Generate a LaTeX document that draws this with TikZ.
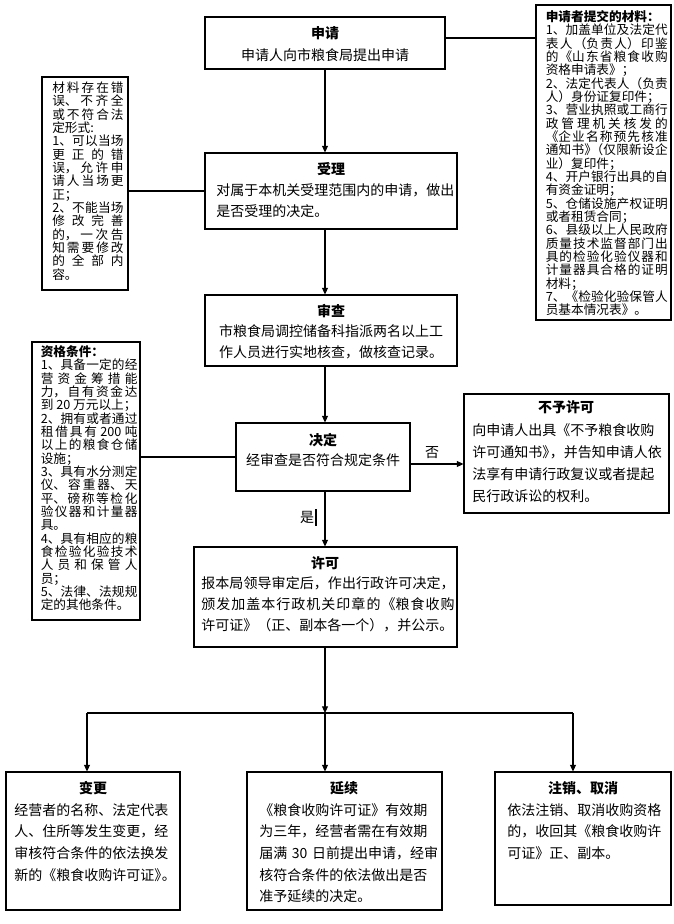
\documentclass[tikz,border=0pt]{standalone}
\usepackage{fontspec}
\setmainfont{Noto Sans CJK SC}
\usetikzlibrary{arrows.meta,fit}
\hbadness=10000
\hfuzz=30pt
\setlength\parindent{0pt}
\tikzset{
  frame/.style={draw, line width=0.8pt, inner sep=0pt},
  ttl/.style={inner sep=0pt, anchor=base, font=\fontsize{10.5}{15.75}\selectfont\bfseries},
  cbody/.style={inner sep=0pt, anchor=base, align=center, text width=#1, font=\fontsize{10.5}{15.75}\selectfont},
  lbody/.style={inner sep=0pt, anchor=base west, align=left, text width=#1, font=\fontsize{10.5}{15.75}\selectfont},
  jbody/.style={inner sep=0pt, anchor=base west, align=justify, text width=#1, font=\fontsize{10.5}{15.75}\selectfont,
    execute at begin node={\XeTeXlinebreaklocale "zh"\XeTeXlinebreakskip=0pt plus 4pt\relax}},
  side/.style={inner sep=0pt, anchor=base west, align=justify, text width=#1, font=\fontsize{9.5}{10}\selectfont,
    execute at begin node={\XeTeXlinebreaklocale "zh"\XeTeXlinebreakskip=0pt plus 4pt\lineskiplimit=-20pt\relax}},
  arr/.style={-{Triangle[length=5pt,width=4.5pt]}, line width=0.8pt},
  conn/.style={line width=0.8pt},
  lbl/.style={inner sep=0pt, font=\fontsize{10.5}{12}\selectfont},
}
\begin{document}
\begin{tikzpicture}[x=0.75pt,y=-0.75pt]
\useasboundingbox (0,0) rectangle (674,924);
% boxes
\node[frame, fit={(205,17)(445,69)}] (sq) {};
\node[frame, fit={(205,153)(457,229)}] (sl) {};
\node[frame, fit={(205,295)(457,366)}] (sc) {};
\node[frame, fit={(236,423)(410,491)}] (jd) {};
\node[frame, fit={(464,394)(669,513)}] (by) {};
\node[frame, fit={(194,547)(457,647)}] (xk) {};
\node[frame, fit={(6,772)(180,910)}] (bg) {};
\node[frame, fit={(247,772)(442,910)}] (yx) {};
\node[frame, fit={(495,772)(671,905)}] (zx) {};
\node[frame, fit={(536,5)(671,320)}] (mat) {};
\node[frame, fit={(42,77)(128,290)}] (err) {};
\node[frame, fit={(32,342)(140,620)}] (qual) {};
% texts
\node[ttl] (sqT) at (325,39) {申请};
\node[cbody=220pt] (sqB) at (325,60.3) {申请人向市粮食局提出申请};
\node[ttl] (slT) at (331,174) {受理};
\node[lbody=182pt] (slB) at (216,195.3) {对属于本机关受理范围内的申请，做出\\是否受理的决定。};
\node[ttl] (scT) at (331,316) {审查};
\node[cbody=240pt] (scB) at (331,336.3) {市粮食局调控储备科指派两名以上工\\作人员进行实地核查，做核查记录。};
\node[ttl] (jdT) at (323,445) {决定};
\node[cbody=160pt] (jdB) at (323,465.3) {经审查是否符合规定条件};
\node[ttl] (byT) at (566,412) {不予许可};
\node[lbody=150pt, font=\fontsize{10.5}{16.5}\selectfont] (byB) at (472,435.3) {向申请人出具《不予粮食收购\\许可通知书》\kern-.45em，并告知申请人依\\法享有申请行政复议或者提起\\民行政诉讼的权利。};
\node[ttl] (xkT) at (325,568) {许可};
\node[jbody=190pt] (xkB) at (201,588.3) {报本局领导审定后，作出行政许可决定，\linebreak 颁发加盖本行政机关印章的《粮食收购\linebreak 许可证》（正、副本各一个），并公示。};
\node[ttl] (bgT) at (93,793) {变更};
\node[lbody=125pt, font=\fontsize{10.5}{16.2}\selectfont] (bgB) at (14,815.3) {经营者的名称、法定代表\\人、住所等发生变更，经\\审核符合条件的依法换发\\新的《粮食收购许可证》\kern-.45em。};
\node[ttl] (yxT) at (344,793) {延续};
\node[lbody=140pt, font=\fontsize{10.5}{16.2}\selectfont] (yxB) at (259,815.3) {《粮食收购许可证》有效期\\为三年，经营者需在有效期\\届满 30 日前提出申请，经审\\核符合条件的依法做出是否\\准予延续的决定。};
\node[ttl] (zxT) at (583,793) {注销、取消};
\node[lbody=130pt, font=\fontsize{10.5}{16.2}\selectfont] (zxB) at (507,815.3) {依法注销、取消收购资格\\的，收回其《粮食收购许\\可证》正、副本。};
% side boxes
\node[side=91.5pt] (matB) at (545.5,21.5) {{\bfseries 申请者提交的材料：}\par
1、加盖单位及法定代\linebreak 表人（负责人）印鉴\linebreak 的《山东省粮食收购\linebreak 资格申请表》；\par
2、法定代表人（负责\linebreak 人）身份证复印件；\par
3、营业执照或工商行\linebreak 政管理机关核发的\linebreak 《企业名称预先核准\linebreak 通知书》\kern-.5em（仅限新设企\linebreak 业）复印件；\par
4、开户银行出具的自\linebreak 有资金证明；\par
5、仓储设施产权证明\linebreak 或者租赁合同；\par
6、县级以上人民政府\linebreak 质量技术监督部门出\linebreak 具的检验化验仪器和\linebreak 计量器具合格的证明\linebreak 材料；\par
7、《检验化验保管人\linebreak 员基本情况表》。};
\node[side=53.5pt] (errB) at (52,92.5) {材料存在错\linebreak 误、不齐全\linebreak 或不符合法\linebreak 定形式:\par
1、可以当场\linebreak 更正的错\linebreak 误，允许申\linebreak 请人当场更\linebreak 正；\par
2、不能当场\linebreak 修改完善\linebreak 的，一次告\linebreak 知需要修改\linebreak 的全部内\linebreak 容。};
\node[side=72.5pt] (qualB) at (40.5,356.5) {{\bfseries 资格条件：}\par
1、具备一定的经\linebreak 营资金筹措能\linebreak 力，自有资金达\linebreak 到 20 万元以上；\par
2、拥有或者通过\linebreak 租借具有 200 吨\linebreak 以上的粮食仓储\linebreak 设施；\par
3、具有水分测定\linebreak 仪、容重器、天\linebreak 平、磅称等检化\linebreak 验仪器和计量器\linebreak 具。\par
4、具有相应的粮\linebreak 食检验化验技术\linebreak 人员和保管人\linebreak 员；\par
5、法律、法规规\linebreak 定的其他条件。};
% connectors
\coordinate (axis) at (325,0);
\coordinate (my) at (0,38);
\coordinate (ny) at (0,464);
\coordinate (br) at (325,713);
\coordinate (bl) at (87,713);
\coordinate (brr) at (573,713);
\draw[arr] (sq.south -| axis) -- (sl.north -| axis);
\draw[arr] (sl.south -| axis) -- (sc.north -| axis);
\draw[arr] (sc.south -| axis) -- (jd.north -| axis);
\draw[arr] (jd.south -| axis) -- (xk.north -| axis);
\draw[arr] (xk.south -| axis) -- (br);
\draw[conn] (bl) -- (brr);
\draw[arr] (bl) -- (bl |- bg.north);
\draw[arr] (br) -- (br |- yx.north);
\draw[arr] (brr) -- (brr |- zx.north);
\draw[arr] (jd.east |- ny) -- (by.west |- ny);
\draw[conn] (sq.east |- my) -- (mat.west |- my);
\draw[conn] (err.east |- sl.west) -- (sl.west);
\draw[conn] (qual.east |- jd.west) -- (jd.west);
\node[lbl] (no) at (432,453) {否};
\node[lbl] (yes) at (307,517) {是};
\draw[line width=1.5pt] (316,509) -- (316,526);
\end{tikzpicture}
\end{document}
